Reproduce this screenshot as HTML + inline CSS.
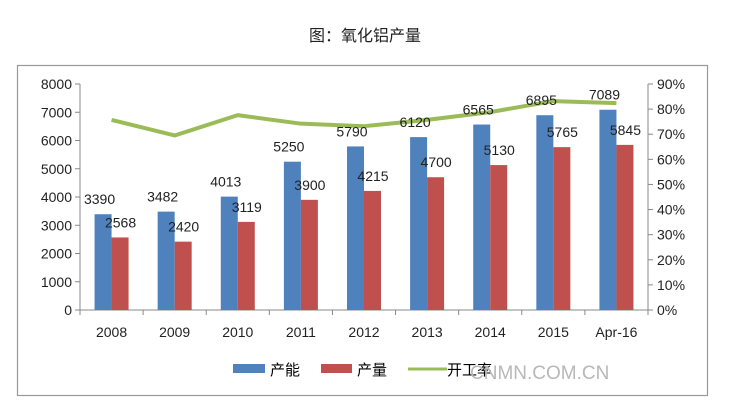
<!DOCTYPE html>
<html><head><meta charset="utf-8"><style>
body{margin:0;background:#fff;width:729px;height:411px;overflow:hidden;font-family:"Liberation Sans","Noto Sans CJK SC",sans-serif}
</style></head><body>
<svg width="729" height="411" style="position:absolute;left:0;top:0">
<text x="365" y="41" text-anchor="middle" font-size="16" font-family="Liberation Sans,Noto Sans CJK SC,sans-serif" fill="#222">图：氧化铝产量</text>
<rect x="17.5" y="65.5" width="690" height="330" fill="none" stroke="#999" stroke-width="1.2"/>
<g id="g"></g>
<g font-size="15" font-family="Liberation Sans,Noto Sans CJK SC,sans-serif">
<rect x="233" y="364" width="32" height="9" fill="#4f81bd"/>
<text x="270" y="375">产能</text>
<rect x="321" y="364" width="31" height="9" fill="#c0504d"/>
<text x="357" y="375">产量</text>
<line x1="408" y1="369" x2="447" y2="369" stroke="#9bbb59" stroke-width="3"/>
<text x="447" y="375">开工率</text>
</g>
<text x="470" y="379" font-size="19" fill="#b8b8b8" font-family="Liberation Sans,sans-serif">CNMN.COM.CN</text>
</svg>
<script>
const categories=["2008","2009","2010","2011","2012","2013","2014","2015","Apr-16"];
const capacity=[3390,3482,4013,5250,5790,6120,6565,6895,7089];
const output=[2568,2420,3119,3900,4215,4700,5130,5765,5845];
const rate=[75.7,69.5,77.6,74.2,73.2,75.7,78.8,83.2,82.4];
const leftTicks=[0,1000,2000,3000,4000,5000,6000,7000,8000];
const rightTicks=[0,10,20,30,40,50,60,70,80,90];
const NS="http://www.w3.org/2000/svg",g=document.getElementById('g');
const X0=80,X1=648,Y0=310,Y1=84;
const bw=(X1-X0)/categories.length;
const yL=v=>Y0-(v/8000)*(Y0-Y1);
const yR=v=>Y0-(v/90)*(Y0-Y1);
const xc=i=>X0+bw*(i+0.5);
function el(t,a,txt){const e=document.createElementNS(NS,t);for(const k in a)e.setAttribute(k,a[k]);if(txt!=null)e.textContent=txt;g.appendChild(e);return e;}
const F="Liberation Sans,sans-serif";
let e;
e=el('line',{x1:X0,y1:Y0,x2:X1,y2:Y0,stroke:'#888'});


e=el('line',{x1:X0,y1:Y1,x2:X0,y2:Y0,stroke:'#888'});


e=el('line',{x1:X1,y1:Y1,x2:X1,y2:Y0,stroke:'#888'});


leftTicks.forEach(v=>{el('line',{x1:X0-5,x2:X0,y1:yL(v),y2:yL(v),stroke:'#888'});
e=el('text',{x:X0-8,y:yL(v)+5,'text-anchor':'end','font-size':14,'font-family':F,fill:'#222'},v);

});
rightTicks.forEach(v=>{el('line',{x1:X1,x2:X1+5,y1:yR(v),y2:yR(v),stroke:'#888'});
e=el('text',{x:X1+9,y:yR(v)+5,'font-size':14,'font-family':F,fill:'#222'},v+'%');

});
for(let i=0;i<=categories.length;i++)el('line',{x1:X0+bw*i,x2:X0+bw*i,y1:Y0,y2:Y0+5,stroke:'#888'});
categories.forEach((c,i)=>{
e=el('text',{x:xc(i),y:Y0+27,'text-anchor':'middle','font-size':14,'font-family':F,fill:'#222'},c);


e=el('rect',{x:xc(i)-17,y:yL(capacity[i]),width:17,height:Y0-yL(capacity[i]),fill:'#4f81bd'});


e=el('rect',{x:xc(i),y:yL(output[i]),width:17,height:Y0-yL(output[i]),fill:'#c0504d'});


});
const pts=rate.map((v,i)=>xc(i)+','+yR(v)).join(' ');
e=el('polyline',{points:pts,fill:'none',stroke:'#9bbb59','stroke-width':4,'stroke-linejoin':'round'});


categories.forEach((c,i)=>{
e=el('text',{x:xc(i)-12,y:yL(capacity[i])-10,'text-anchor':'middle','font-size':14,'font-family':F,fill:'#222'},capacity[i]);


e=el('text',{x:xc(i)+9,y:yL(output[i])-10,'text-anchor':'middle','font-size':14,'font-family':F,fill:'#222'},output[i]);


});
</script>
</body></html>
